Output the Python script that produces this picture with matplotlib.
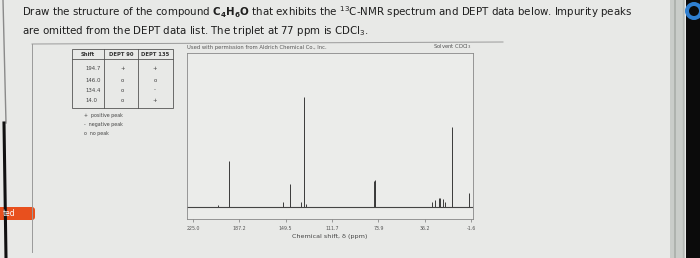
import matplotlib
matplotlib.use("Agg")
import matplotlib.pyplot as plt
from matplotlib.patches import FancyBboxPatch, Circle, Rectangle

# 13C spectrum: peak positions (ppm) and relative heights
peak_ppm = [205.0, 195.4, 151.5, 146.0, 137.0, 134.4, 133.2, 77.4, 77.0, 76.6,
            30.0, 28.0, 24.5, 23.5, 21.5, 19.5, 14.0, 0.0]
peak_height = [2, 42, 5, 21, 5, 100, 3, 24, 25, 24,
               5, 6, 8, 8, 7, 5, 73, 13]

tick_ppm = [225.0, 187.2, 149.5, 111.7, 73.9, 36.2, -1.6]
tick_labels = ["225.0", "187.2", "149.5", "111.7", "73.9", "36.2", "-1.6"]

# DEPT table
dept_shift = ["194.7", "146.0", "134.4", "14.0"]
dept_90 = ["+", "o", "o", "o"]
dept_135 = ["+", "o", "-", "+"]
legend_items = ["+  positive peak", "-  negative peak", "o  no peak"]

W, H = 700, 258
bg_col = "#e8e9e7"

fig = plt.figure(figsize=(7, 2.58), dpi=100)
fig.patch.set_facecolor(bg_col)

bg = fig.add_axes([0, 0, 1, 1])
bg.set_xlim(0, W)
bg.set_ylim(H, 0)
bg.axis("off")

# question text
bg.text(22, 12, r"Draw the structure of the compound $\mathbf{C_4H_6O}$ that exhibits the "
        r"$^{13}$C-NMR spectrum and DEPT data below. Impurity peaks",
        fontsize=7.4, color="#1e1e1e", va="center", ha="left")
bg.text(22, 31, r"are omitted from the DEPT data list. The triplet at 77 ppm is CDCl$_3$.",
        fontsize=7.4, color="#1e1e1e", va="center", ha="left")

# panel frame
bg.plot([32, 503], [44, 42], color="#9a9a9a", lw=0.7)
bg.plot([32, 32], [44, 252], color="#9a9a9a", lw=0.7)

# left window edge + red tab
bg.plot([3, 6], [0, 123], color="#8a8a8a", lw=1.0)
bg.plot([4, 6], [123, 258], color="#111111", lw=2.2)
bg.add_patch(FancyBboxPatch((-6, 207), 41, 13, boxstyle="round,pad=0,rounding_size=3",
                            fc="#e8501e", ec="none"))
bg.text(3, 213.5, "ted", fontsize=5.5, color="white", va="center", ha="left")

# right window edge
bg.add_patch(Rectangle((670, 0), 15, H, fc="#c9cdc9", ec="none"))
bg.plot([675, 675], [0, H], color="#a9aea9", lw=1.2)
bg.plot([683, 683], [0, H], color="#b5b9b5", lw=1.0)
bg.add_patch(Rectangle((686, 0), 14, H, fc="#0b0b0b", ec="none"))
bg.add_patch(Circle((694, 11), 9, fc="#2f7fd0", ec="none"))
bg.add_patch(Circle((694, 11), 5, fc="#0b0b0b", ec="none"))

# DEPT table
tc = "#555555"
tl, tr, tt, tb = 72, 173, 49, 108
col1, col2 = 104, 138
bg.add_patch(Rectangle((tl, tt), tr - tl, tb - tt, fc="none", ec=tc, lw=0.6))
bg.plot([tl, tr], [59, 59], color=tc, lw=0.6)
bg.plot([col1, col1], [tt, tb], color=tc, lw=0.6)
bg.plot([col2, col2], [tt, tb], color=tc, lw=0.6)
bg.text(88, 54, "Shift", fontsize=3.8, weight="bold", color="#333333", ha="center", va="center")
bg.text(121, 54, "DEPT 90", fontsize=3.8, weight="bold", color="#333333", ha="center", va="center")
bg.text(155.5, 54, "DEPT 135", fontsize=3.8, weight="bold", color="#333333", ha="center", va="center")
row_y = [69, 80, 90, 100]
for y, s, a, b in zip(row_y, dept_shift, dept_90, dept_135):
    bg.text(85, y, s, fontsize=3.9, color="#444444", ha="left", va="center")
    bg.text(122.5, y, a, fontsize=3.9, color="#444444", ha="center", va="center")
    bg.text(155, y, b, fontsize=3.9, color="#444444", ha="center", va="center")
for i, item in enumerate(legend_items):
    bg.text(84, 115 + i * 9.5, item, fontsize=3.4, color="#444444", ha="left", va="center")

# spectrum header texts
bg.text(187, 48, "Used with permission from Aldrich Chemical Co., Inc.",
        fontsize=3.8, color="#555555", ha="left", va="center")
bg.text(471, 46.5, "Solvent CDCl$_3$", fontsize=3.8, color="#555555", ha="right", va="center")

# spectrum axes
x0, x1, y0, y1 = 187, 473, 53, 219
ax = fig.add_axes([x0 / W, (H - y1) / H, (x1 - x0) / W, (y1 - y0) / H])
ax.set_facecolor("#ebecea")
ax.vlines(peak_ppm, 0, peak_height, color="#3a3a3a", lw=0.7)
ax.axhline(0, color="#444444", lw=0.8)
ax.set_xlim(229.9, -3.2)
ax.set_ylim(-10.9, 140)
ax.set_yticks([])
ax.set_xticks(tick_ppm)
ax.set_xticklabels(tick_labels)
ax.tick_params(axis="x", direction="out", length=2, width=0.5, color="#777777",
               labelsize=3.4, labelcolor="#555555", pad=3)
for sp in ax.spines.values():
    sp.set_color("#888888")
    sp.set_linewidth(0.6)
ax.set_xlabel("Chemical shift, δ (ppm)", fontsize=4.6, color="#444444", labelpad=2.5)

fig.savefig("out.png", dpi=100, facecolor=fig.get_facecolor())
